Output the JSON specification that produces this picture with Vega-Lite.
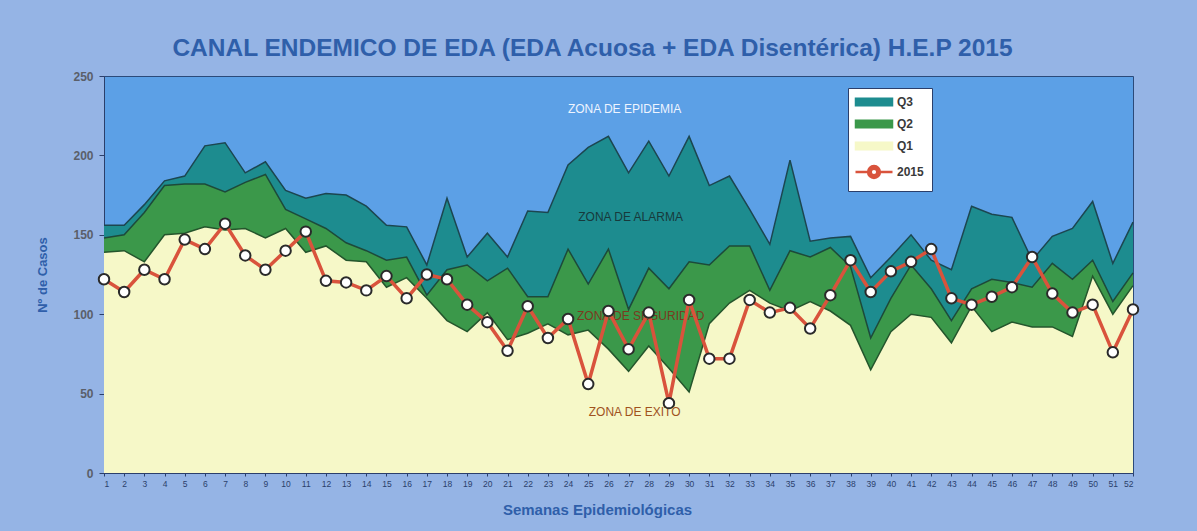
{
  "$schema": "https://vega.github.io/schema/vega-lite/v6.json",
  "autosize": "none",
  "width": 1029,
  "height": 397,
  "padding": {"left": 104, "top": 76, "right": 64, "bottom": 58},
  "background": "#95b4e5",
  "config": {"font": "Liberation Sans", "view": {"fill": "#5ca0e6", "stroke": "#2b4a7a", "strokeWidth": 1}},
  "title": {"text": "CANAL  ENDEMICO DE EDA (EDA Acuosa + EDA Disentérica) H.E.P 2015", "fontSize": 24.5, "fontWeight": "bold", "color": "#2f5faa", "anchor": "middle", "dx": -26, "offset": 9},
  "datasets": {
    "semanas": [
      {"semana": 1, "Q3": 156, "Q2": 148, "Q1": 139, "v2015": 122},
      {"semana": 2, "Q3": 156, "Q2": 150, "Q1": 140, "v2015": 114},
      {"semana": 3, "Q3": 169, "Q2": 164, "Q1": 133, "v2015": 128},
      {"semana": 4, "Q3": 184, "Q2": 181, "Q1": 150, "v2015": 122},
      {"semana": 5, "Q3": 187, "Q2": 182, "Q1": 151, "v2015": 147},
      {"semana": 6, "Q3": 206, "Q2": 182, "Q1": 155, "v2015": 141},
      {"semana": 7, "Q3": 208, "Q2": 177, "Q1": 153, "v2015": 157},
      {"semana": 8, "Q3": 189, "Q2": 183, "Q1": 154, "v2015": 137},
      {"semana": 9, "Q3": 196, "Q2": 188, "Q1": 148, "v2015": 128},
      {"semana": 10, "Q3": 178, "Q2": 166, "Q1": 154, "v2015": 140},
      {"semana": 11, "Q3": 173, "Q2": 160, "Q1": 139, "v2015": 152},
      {"semana": 12, "Q3": 176, "Q2": 154, "Q1": 143, "v2015": 121},
      {"semana": 13, "Q3": 175, "Q2": 145, "Q1": 134, "v2015": 120},
      {"semana": 14, "Q3": 168, "Q2": 140, "Q1": 133, "v2015": 115},
      {"semana": 15, "Q3": 156, "Q2": 134, "Q1": 117, "v2015": 124},
      {"semana": 16, "Q3": 155, "Q2": 136, "Q1": 123, "v2015": 110},
      {"semana": 17, "Q3": 131, "Q2": 112, "Q1": 110, "v2015": 125},
      {"semana": 18, "Q3": 173, "Q2": 128, "Q1": 96, "v2015": 122},
      {"semana": 19, "Q3": 136, "Q2": 131, "Q1": 89, "v2015": 106},
      {"semana": 20, "Q3": 151, "Q2": 121, "Q1": 101, "v2015": 95},
      {"semana": 21, "Q3": 136, "Q2": 129, "Q1": 84, "v2015": 77},
      {"semana": 22, "Q3": 165, "Q2": 111, "Q1": 88, "v2015": 105},
      {"semana": 23, "Q3": 164, "Q2": 111, "Q1": 94, "v2015": 85},
      {"semana": 24, "Q3": 194, "Q2": 141, "Q1": 87, "v2015": 97},
      {"semana": 25, "Q3": 205, "Q2": 119, "Q1": 90, "v2015": 56},
      {"semana": 26, "Q3": 212, "Q2": 141, "Q1": 78, "v2015": 102},
      {"semana": 27, "Q3": 189, "Q2": 103, "Q1": 64, "v2015": 78},
      {"semana": 28, "Q3": 209, "Q2": 129, "Q1": 80, "v2015": 101},
      {"semana": 29, "Q3": 187, "Q2": 116, "Q1": 66, "v2015": 44},
      {"semana": 30, "Q3": 212, "Q2": 133, "Q1": 51, "v2015": 109},
      {"semana": 31, "Q3": 181, "Q2": 131, "Q1": 94, "v2015": 72},
      {"semana": 32, "Q3": 187, "Q2": 143, "Q1": 107, "v2015": 72},
      {"semana": 33, "Q3": 166, "Q2": 143, "Q1": 115, "v2015": 109},
      {"semana": 34, "Q3": 144, "Q2": 115, "Q1": 107, "v2015": 101},
      {"semana": 35, "Q3": 197, "Q2": 140, "Q1": 102, "v2015": 104},
      {"semana": 36, "Q3": 146, "Q2": 136, "Q1": 108, "v2015": 91},
      {"semana": 37, "Q3": 148, "Q2": 142, "Q1": 102, "v2015": 112},
      {"semana": 38, "Q3": 149, "Q2": 130, "Q1": 93, "v2015": 134},
      {"semana": 39, "Q3": 123, "Q2": 85, "Q1": 65, "v2015": 114},
      {"semana": 40, "Q3": 136, "Q2": 110, "Q1": 89, "v2015": 127},
      {"semana": 41, "Q3": 150, "Q2": 131, "Q1": 100, "v2015": 133},
      {"semana": 42, "Q3": 134, "Q2": 116, "Q1": 98, "v2015": 141},
      {"semana": 43, "Q3": 128, "Q2": 96, "Q1": 82, "v2015": 110},
      {"semana": 44, "Q3": 168, "Q2": 116, "Q1": 105, "v2015": 106},
      {"semana": 45, "Q3": 163, "Q2": 122, "Q1": 89, "v2015": 111},
      {"semana": 46, "Q3": 161, "Q2": 120, "Q1": 95, "v2015": 117},
      {"semana": 47, "Q3": 134, "Q2": 117, "Q1": 92, "v2015": 136},
      {"semana": 48, "Q3": 149, "Q2": 132, "Q1": 92, "v2015": 113},
      {"semana": 49, "Q3": 154, "Q2": 122, "Q1": 86, "v2015": 101},
      {"semana": 50, "Q3": 171, "Q2": 134, "Q1": 124, "v2015": 106},
      {"semana": 51, "Q3": 132, "Q2": 108, "Q1": 100, "v2015": 76},
      {"semana": 52, "Q3": 158, "Q2": 126, "Q1": 118, "v2015": 103}
    ],
    "zonas": [
      {"zona": "epidemia", "texto": "ZONA DE EPIDEMIA", "semana": 26.8, "casos": 229},
      {"zona": "alarma", "texto": "ZONA DE ALARMA", "semana": 27.1, "casos": 161.5},
      {"zona": "seguridad", "texto": "ZONA DE SEGURIDAD", "semana": 27.6, "casos": 99},
      {"zona": "exito", "texto": "ZONA DE EXITO", "semana": 27.3, "casos": 38.5}
    ]
  },
  "encoding": {
    "x": {"field": "semana", "type": "quantitative", "scale": {"domain": [1, 52], "nice": false, "zero": false},
      "axis": {"values": [1,2,3,4,5,6,7,8,9,10,11,12,13,14,15,16,17,18,19,20,21,22,23,24,25,26,27,28,29,30,31,32,33,34,35,36,37,38,39,40,41,42,43,44,45,46,47,48,49,50,51,52],
        "format": "d", "grid": false, "labelFontSize": 8.5, "labelColor": "#2b3f6b", "labelPadding": 3, "tickSize": 3, "tickColor": "#2b3f6b", "domainColor": "#2b3f6b", "labelOverlap": false,
        "title": "Semanas Epidemiológicas", "titleFontSize": 15, "titleFontWeight": "bold", "titleColor": "#2f5faa", "titlePadding": 15, "titleX": 493}},
    "y": {"type": "quantitative", "scale": {"domain": [0, 250]},
      "axis": {"values": [0, 50, 100, 150, 200, 250], "grid": false, "labelFontSize": 12, "labelFontWeight": "bold", "labelColor": "#5a5f6a", "labelPadding": 6, "tickSize": 5, "tickColor": "#2b3f6b", "domainColor": "#2b3f6b",
        "title": "Nº de Casos", "titleFontSize": 13, "titleFontWeight": "bold", "titleColor": "#2f5faa", "titlePadding": 23}}
  },
  "layer": [
    {"data": {"name": "semanas"}, "mark": {"type": "area", "opacity": 1},
      "encoding": {"y": {"field": "Q3", "type": "quantitative"},
        "color": {"datum": "Q3", "type": "nominal",
          "scale": {"domain": ["Q3", "Q2", "Q1", "2015"], "range": ["#1d8c8f", "#3b984a", "#f6f8c8", "#d9533c"]},
          "legend": {"title": null, "orient": "none", "legendX": 744, "legendY": 12, "fillColor": "white", "strokeColor": "#2b3f6b", "padding": 8,
            "labelFontSize": 12, "labelFontWeight": "bold", "labelColor": "#3a3a3a", "labelOffset": 17, "symbolOffset": 12, "symbolSize": 1369, "rowPadding": 8,
            "symbolStrokeColor": "#1c4650", "symbolStrokeWidth": 1.5, "symbolOpacity": 1,
            "encode": {"symbols": {"update": {
              "shape": {"signal": "datum.label === '2015' ? 'M-1,0H-0.32M0.32,0H1M0.32,0A0.32,0.32 0 1 1 -0.32,0A0.32,0.32 0 1 1 0.32,0ZM0.18,0A0.18,0.18 0 1 0 -0.18,0A0.18,0.18 0 1 0 0.18,0Z' : 'M-1,-0.2H1V0.2H-1Z'"},
              "stroke": {"signal": "datum.label === '2015' ? '#d9533c' : '#1c4650'"},
              "strokeWidth": {"signal": "datum.label === '2015' ? 2.5 : 1.5"},
              "opacity": {"value": 1}}}}}}}},
    {"data": {"name": "semanas"}, "mark": {"type": "line", "color": "#1c4650", "strokeWidth": 1.5},
      "encoding": {"y": {"field": "Q3", "type": "quantitative"}}},
    {"data": {"name": "semanas"}, "mark": {"type": "area", "opacity": 1},
      "encoding": {"y": {"field": "Q2", "type": "quantitative"}, "color": {"datum": "Q2", "type": "nominal"}}},
    {"data": {"name": "semanas"}, "mark": {"type": "line", "color": "#1d4a3a", "strokeWidth": 1.5},
      "encoding": {"y": {"field": "Q2", "type": "quantitative"}}},
    {"data": {"name": "semanas"}, "mark": {"type": "area", "opacity": 1},
      "encoding": {"y": {"field": "Q1", "type": "quantitative"}, "color": {"datum": "Q1", "type": "nominal"}}},
    {"data": {"name": "semanas"}, "mark": {"type": "line", "color": "#24552c", "strokeWidth": 1.5},
      "encoding": {"y": {"field": "Q1", "type": "quantitative"}}},
    {"data": {"name": "zonas"}, "transform": [{"filter": "datum.zona === 'epidemia'"}],
      "mark": {"type": "text", "fontSize": 12, "color": "#eef4ff", "align": "center", "baseline": "middle"},
      "encoding": {"y": {"field": "casos", "type": "quantitative"}, "text": {"field": "texto"}}},
    {"data": {"name": "zonas"}, "transform": [{"filter": "datum.zona === 'alarma'"}],
      "mark": {"type": "text", "fontSize": 12, "color": "#173a3c", "align": "center", "baseline": "middle"},
      "encoding": {"y": {"field": "casos", "type": "quantitative"}, "text": {"field": "texto"}}},
    {"data": {"name": "zonas"}, "transform": [{"filter": "datum.zona === 'seguridad'"}],
      "mark": {"type": "text", "fontSize": 12, "color": "#7a3a20", "align": "center", "baseline": "middle"},
      "encoding": {"y": {"field": "casos", "type": "quantitative"}, "text": {"field": "texto"}}},
    {"data": {"name": "zonas"}, "transform": [{"filter": "datum.zona === 'exito'"}],
      "mark": {"type": "text", "fontSize": 12, "color": "#a0521e", "align": "center", "baseline": "middle"},
      "encoding": {"y": {"field": "casos", "type": "quantitative"}, "text": {"field": "texto"}}},
    {"data": {"name": "semanas"}, "mark": {"type": "line", "strokeWidth": 3.5},
      "encoding": {"y": {"field": "v2015", "type": "quantitative"}, "color": {"datum": "2015", "type": "nominal"}}},
    {"data": {"name": "semanas"}, "mark": {"type": "point", "filled": true, "fill": "#ffffff", "stroke": "#2a2a2a", "strokeWidth": 2, "size": 110, "opacity": 1},
      "encoding": {"y": {"field": "v2015", "type": "quantitative"}}}
  ]
}
